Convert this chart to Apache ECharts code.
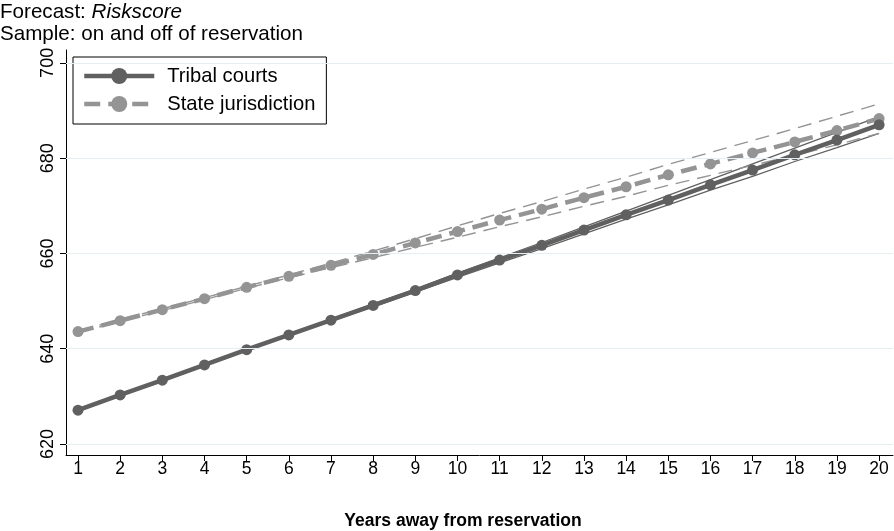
<!DOCTYPE html>
<html>
<head>
<meta charset="utf-8">
<script src="https://cdn.jsdelivr.net/npm/echarts@6/dist/echarts.min.js"></script>
<style>html,body{margin:0;padding:0;background:#fff;}#c{width:894px;height:531px;}</style>
</head>
<body>
<div id="c"></div>
<script>
var years = [1,2,3,4,5,6,7,8,9,10,11,12,13,14,15,16,17,18,19,20];
var yTicks = [620,640,660,680,700];
var tribal = [627.1,630.3,633.4,636.6,639.8,642.9,646.0,649.1,652.2,655.5,658.6,661.7,664.9,668.1,671.2,674.4,677.5,680.7,683.8,687.0];
var tribalLow = [626.9,630.1,633.2,636.4,639.7,642.8,645.8,648.8,651.9,655.0,658.0,661.0,664.1,667.2,670.2,673.3,676.2,679.3,682.2,685.2];
var tribalHigh = [627.3,630.5,633.6,636.8,639.9,643.0,646.2,649.4,652.5,655.9,659.1,662.3,665.6,668.9,672.2,675.5,678.8,682.1,685.4,688.7];
var state = [643.6,645.9,648.2,650.5,652.9,655.2,657.5,659.8,662.2,664.6,667.0,669.3,671.7,674.0,676.5,678.8,681.1,683.4,685.8,688.3];
var stateLow = [643.4,645.7,648.0,650.3,652.7,654.9,657.0,659.1,661.3,663.4,665.6,667.7,669.9,672.0,674.3,676.4,678.5,680.6,682.8,685.2];
var stateHigh = [643.8,646.1,648.4,650.7,653.1,655.5,658.0,660.5,663.1,665.8,668.4,670.9,673.5,676.0,678.7,681.2,683.7,686.2,688.8,691.4];

function pairs(v){ return years.map(function(x,i){ return [x, v[i]]; }); }

var dark = '#606060', light = '#949494';
var F = 'Liberation Sans, Arial, sans-serif';
var chart = echarts.init(document.getElementById('c'));
chart.setOption({
  animation: false,
  textStyle: { fontFamily: F },
  graphic: [
    { type: 'text', left: 0, top: 2, style: { text: '{a|Forecast: }{b|Riskscore}', rich: {
      a: { fontSize: 20.6, fill: '#000', fontFamily: F },
      b: { fontSize: 20.6, fill: '#000', fontStyle: 'italic', fontFamily: F } } } },
    { type: 'text', left: 0, top: 24, style: { text: 'Sample: on and off of reservation', fontSize: 20.6, fill: '#000', fontFamily: F } },
    { type: 'text', x: 463, y: 521, style: { text: 'Years away from reservation', fontSize: 17.5, fontWeight: 'bold', fill: '#000', fontFamily: F, align: 'center', verticalAlign: 'middle' } }
  ],
  grid: { left: 66, right: 1, top: 50, bottom: 76, containLabel: false },
  legend: {
    left: 73, top: 57, orient: 'vertical',
    data: [
      { name: 'Tribal courts', lineStyle: { width: 4.5, color: dark } },
      { name: 'State jurisdiction', lineStyle: { width: 4.5, color: light, type: [16, 8] } }
    ],
    backgroundColor: '#fff', borderColor: '#000', borderWidth: 1, borderRadius: 0,
    padding: [9, 11, 10, 9], itemGap: 8, itemWidth: 70, itemHeight: 20,
    textStyle: { fontSize: 20.2, color: '#000', fontFamily: F, padding: [0,0,0,8] }
  },
  xAxis: {
    type: 'value', min: 0.715, max: 20.33,
    axisLine: { show: true, lineStyle: { color: '#000', width: 1 } },
    axisTick: { show: true, length: 6, customValues: years, lineStyle: { color: '#000' } },
    axisLabel: { customValues: years, fontSize: 17.5, color: '#000', margin: 5, fontFamily: F },
    splitLine: { show: false }
  },
  yAxis: {
    type: 'value', min: 617.7, max: 702.7,
    axisLine: { show: true, lineStyle: { color: '#000', width: 1 } },
    axisTick: { show: true, length: 6, customValues: yTicks, lineStyle: { color: '#000' } },
    axisLabel: { customValues: yTicks, rotate: 90, fontSize: 18, color: '#000', margin: 9, fontFamily: F },
    splitLine: { show: false }
  },
  series: [
    { type: 'line', name: 'grid', data: [], silent: true,
      markLine: { silent: true, symbol: 'none', label: { show: false },
        lineStyle: { color: '#e6eef2', type: 'solid', width: 1.2 },
        data: yTicks.map(function(v){ return { yAxis: v }; }) } },
    { type: 'line', name: 'tlo', data: pairs(tribalLow), symbol: 'none', lineStyle: { color: dark, width: 1.3 }, z: 2 },
    { type: 'line', name: 'thi', data: pairs(tribalHigh), symbol: 'none', lineStyle: { color: dark, width: 1.3 }, z: 2 },
    { type: 'line', name: 'slo', data: pairs(stateLow), symbol: 'none', lineStyle: { color: light, width: 1.4, type: [14, 8] }, z: 2 },
    { type: 'line', name: 'shi', data: pairs(stateHigh), symbol: 'none', lineStyle: { color: light, width: 1.4, type: [14, 8] }, z: 2 },
    { type: 'line', name: 'State jurisdiction', data: pairs(state), symbol: 'circle', symbolSize: 11,
      itemStyle: { color: light }, lineStyle: { color: light, width: 4.5, type: [16, 8] }, z: 3 },
    { type: 'line', name: 'Tribal courts', data: pairs(tribal), symbol: 'circle', symbolSize: 11,
      itemStyle: { color: dark }, lineStyle: { color: dark, width: 4.5 }, z: 4 }
  ]
});
</script>
</body>
</html>
